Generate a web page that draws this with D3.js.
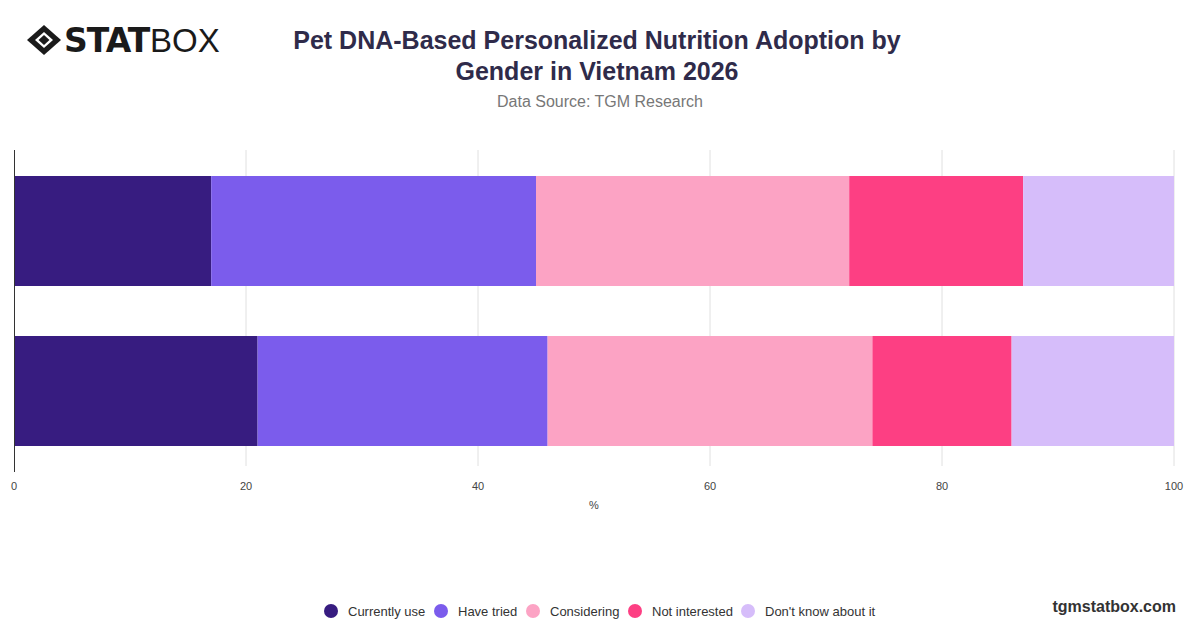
<!DOCTYPE html>
<html><head><meta charset="utf-8">
<script src="https://cdn.jsdelivr.net/npm/d3@7"></script>
<style>body{margin:0;background:#fff;font-family:"Helvetica Neue",Helvetica,Arial,"Liberation Sans",sans-serif}</style>
</head><body><svg id="c" width="1200" height="628"></svg>
<script>
const categories = ["Male", "Female"];
const seriesNames = ["Currently use", "Have tried", "Considering", "Not interested", "Don't know about it"];
const colors = ["#371c80", "#7b5cec", "#fca3c4", "#fd3f83", "#d6bdfa"];
const currentlyUse = [17, 21];
const haveTried = [28, 25];
const considering = [27, 28];
const notInterested = [15, 12];
const dontKnow = [13, 14];
const xTicks = [0, 20, 40, 60, 80, 100];

const svg = d3.select("#c");
const x = d3.scaleLinear().domain([0, 100]).range([14, 1174]);
const y = d3.scaleBand().domain(categories).range([150, 472]).paddingInner(0.3125).paddingOuter(0.1625);

svg.append("g").selectAll("line").data(xTicks.slice(1)).join("line")
  .attr("x1", d => x(d)).attr("x2", d => x(d)).attr("y1", 150).attr("y2", 466)
  .attr("stroke", "#e0e0e0").attr("stroke-width", 1);

const series = [currentlyUse, haveTried, considering, notInterested, dontKnow];
const rows = categories.map((c, i) => { const o = {cat: c}; seriesNames.forEach((s, j) => o[s] = series[j][i]); return o; });
const stacked = d3.stack().keys(seriesNames)(rows);
svg.append("g").selectAll("g").data(stacked).join("g").attr("fill", (d, i) => colors[i])
  .selectAll("rect").data(d => d).join("rect")
  .attr("x", d => x(d[0])).attr("width", d => x(d[1]) - x(d[0]))
  .attr("y", d => y(d.data.cat)).attr("height", y.bandwidth());

svg.append("line").attr("x1", 14.5).attr("x2", 14.5).attr("y1", 150).attr("y2", 472).attr("stroke", "#333");

svg.append("g").selectAll("text").data(xTicks).join("text")
  .attr("x", d => x(d)).attr("y", 490).attr("text-anchor", "middle")
  .attr("font-size", 11).attr("fill", "#444").text(d => d);
svg.append("text").attr("x", 594).attr("y", 509).attr("text-anchor", "middle").attr("font-size", 11).attr("fill", "#444").text("%");

svg.append("text").attr("x", 597).attr("y", 49).attr("text-anchor", "middle").attr("font-size", 25).attr("font-weight", 700).attr("fill", "#2f2b4a").text("Pet DNA-Based Personalized Nutrition Adoption by");
svg.append("text").attr("x", 597).attr("y", 80).attr("text-anchor", "middle").attr("font-size", 25).attr("font-weight", 700).attr("fill", "#2f2b4a").text("Gender in Vietnam 2026");
svg.append("text").attr("x", 600).attr("y", 107).attr("text-anchor", "middle").attr("font-size", 16).attr("fill", "#777").text("Data Source: TGM Research");

const lg = svg.append("g").attr("transform", "translate(44,40)");
lg.append("path").attr("d", "M0,-15 L17,0 L0,15 L-17,0 Z").attr("fill", "#1a1a1a");
lg.append("path").attr("d", "M0,-8 L9,0 L0,8 L-9,0 Z").attr("fill", "#fff");
lg.append("path").attr("d", "M0,-5 L5.5,0 L0,5 L-5.5,0 Z").attr("fill", "#1a1a1a");
svg.append("text").attr("x", 64).attr("y", 52).attr("font-size", 33).attr("font-weight", 900).attr("fill", "#1a1a1a").attr("font-family", "'DejaVu Sans',sans-serif").attr("letter-spacing", -1).text("STAT");
svg.append("text").attr("x", 150).attr("y", 52).attr("font-size", 33).attr("font-weight", 300).attr("fill", "#1a1a1a").attr("font-family", "'Liberation Sans',sans-serif").text("BOX");

const legX = [331, 441, 533, 635, 748];
const leg = svg.append("g").selectAll("g").data(seriesNames).join("g").attr("transform", (d, i) => `translate(${legX[i]},611)`);
leg.append("circle").attr("r", 7).attr("fill", (d, i) => colors[i]);
leg.append("text").attr("x", 17).attr("y", 5).attr("font-size", 13).attr("fill", "#333").text(d => d);

svg.append("text").attr("x", 1176).attr("y", 612).attr("text-anchor", "end").attr("font-size", 16).attr("font-weight", 700).attr("fill", "#333").text("tgmstatbox.com");
</script></body></html>
